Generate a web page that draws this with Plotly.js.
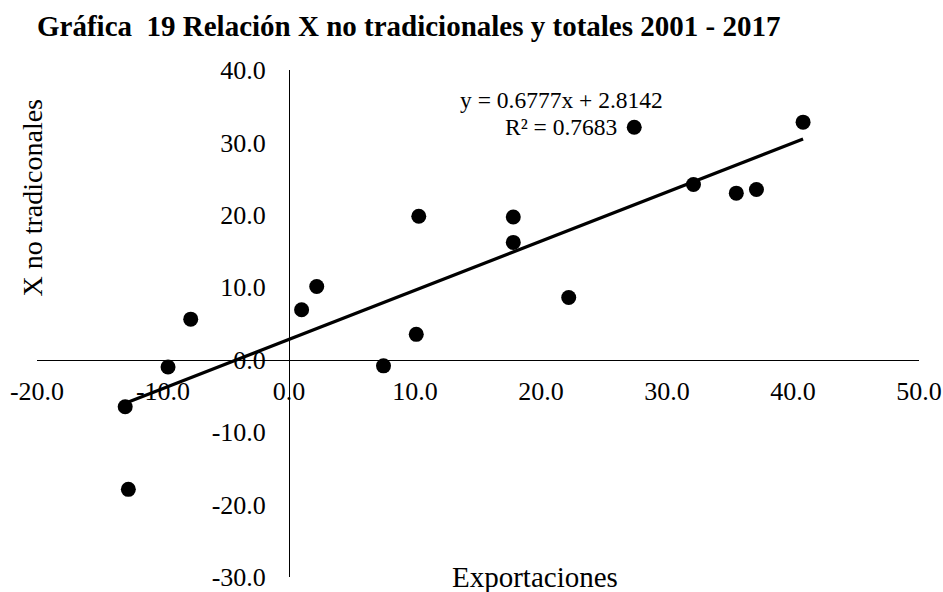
<!DOCTYPE html>
<html>
<head>
<meta charset="utf-8">
<script src="https://cdn.plot.ly/plotly-3.0.1.min.js"></script>
<style>html,body{margin:0;padding:0;background:#fff;}#chart{width:943px;height:592px;}</style>
</head>
<body>
<div id="chart"></div>
<script>
// Data (2001 - 2017)
const exportaciones = [-13.0, -12.75, -9.6, -7.8, 1.0, 2.2, 7.5, 10.1, 10.3, 17.8, 17.8, 22.2, 27.4, 32.1, 35.5, 37.1, 40.8];
const xNoTradicionales = [-6.5, -17.9, -1.0, 5.6, 6.9, 10.1, -0.85, 3.5, 19.8, 19.7, 16.2, 8.6, 32.1, 24.2, 23.0, 23.5, 32.8];

// Trendline coefficients shown on the chart
const slope = 0.6777;
const intercept = 2.8142;
const r2 = 0.7683;

// Tick labels
const xTickVals = [-20, -10, 0, 10, 20, 30, 40, 50];
const xTickText = ['-20.0', '-10.0', '0.0', '10.0', '20.0', '30.0', '40.0', '50.0'];
const yTickVals = [-29.98, -20, -10, 0, 10, 20, 30, 40];
const yTickText = ['-30.0', '-20.0', '-10.0', '0.0', '10.0', '20.0', '30.0', '40.0'];

const titleText = 'Gráfica&nbsp;&nbsp;19 Relación X no tradicionales y totales 2001 - 2017';
const xTitle = 'Exportaciones';
const yTitle = 'X no tradiconales';

const xMin = Math.min(...exportaciones), xMax = Math.max(...exportaciones);
const trendX = [xMin, xMax];
const trendY = trendX.map(v => slope * v + intercept);

const FONT = 'Liberation Serif, Times New Roman, serif';
const xRange = [-20, 50], yRange = [-30, 40];

const data = [
  {
    type: 'scatter', mode: 'markers',
    x: exportaciones, y: xNoTradicionales,
    marker: {color: '#000', size: 15},
    showlegend: false, cliponaxis: false
  },
  {
    type: 'scatter', mode: 'lines',
    x: trendX, y: trendY,
    line: {color: '#000', width: 3.2},
    showlegend: false
  }
];

const layout = {
  width: 943, height: 592,
  margin: {l: 37, r: 24, t: 70, b: 15},
  paper_bgcolor: '#fff', plot_bgcolor: '#fff',
  showlegend: false,
  font: {family: FONT, color: '#000'},
  title: {
    text: '<b>' + titleText + '</b>',
    xref: 'container', x: 37 / 943, xanchor: 'left',
    yref: 'container', y: 1 - 26 / 592, yanchor: 'middle',
    font: {family: FONT, size: 29, color: '#000'}
  },
  xaxis: {
    range: xRange, tickmode: 'array', tickvals: xTickVals, ticktext: xTickText,
    anchor: 'free', position: (0 - yRange[0]) / (yRange[1] - yRange[0]),
    showline: true, linecolor: '#000', linewidth: 1.4,
    showgrid: false, zeroline: false, ticks: '',
    tickfont: {family: FONT, size: 26, color: '#000'},
    ticklabelstandoff: 8, fixedrange: true
  },
  yaxis: {
    range: yRange, tickmode: 'array', tickvals: yTickVals, ticktext: yTickText,
    anchor: 'free', position: (0 - xRange[0]) / (xRange[1] - xRange[0]),
    showline: true, linecolor: '#000', linewidth: 1.4,
    showgrid: false, zeroline: false, ticks: '',
    tickfont: {family: FONT, size: 26, color: '#000'},
    ticklabelstandoff: 18, fixedrange: true
  },
  annotations: [
    {text: 'y = ' + slope + 'x + ' + intercept, xref: 'x', yref: 'y', x: 21.6, y: 35.8,
     showarrow: false, xanchor: 'center', yanchor: 'middle', font: {family: FONT, size: 23.5, color: '#000'}},
    {text: 'R² = ' + r2, xref: 'x', yref: 'y', x: 21.6, y: 32.1,
     showarrow: false, xanchor: 'center', yanchor: 'middle', font: {family: FONT, size: 23.5, color: '#000'}},
    {text: xTitle, xref: 'paper', yref: 'paper', x: (535 - 37) / 882, y: 0,
     showarrow: false, xanchor: 'center', yanchor: 'middle', font: {family: FONT, size: 29, color: '#000'}},
    {text: yTitle, xref: 'paper', yref: 'paper', x: (32 - 37) / 882, y: (577 - 197.5) / 507,
     textangle: -90, showarrow: false, xanchor: 'center', yanchor: 'middle', font: {family: FONT, size: 28, color: '#000'}}
  ]
};

Plotly.newPlot('chart', data, layout, {displayModeBar: false, staticPlot: true});
</script>
</body>
</html>
